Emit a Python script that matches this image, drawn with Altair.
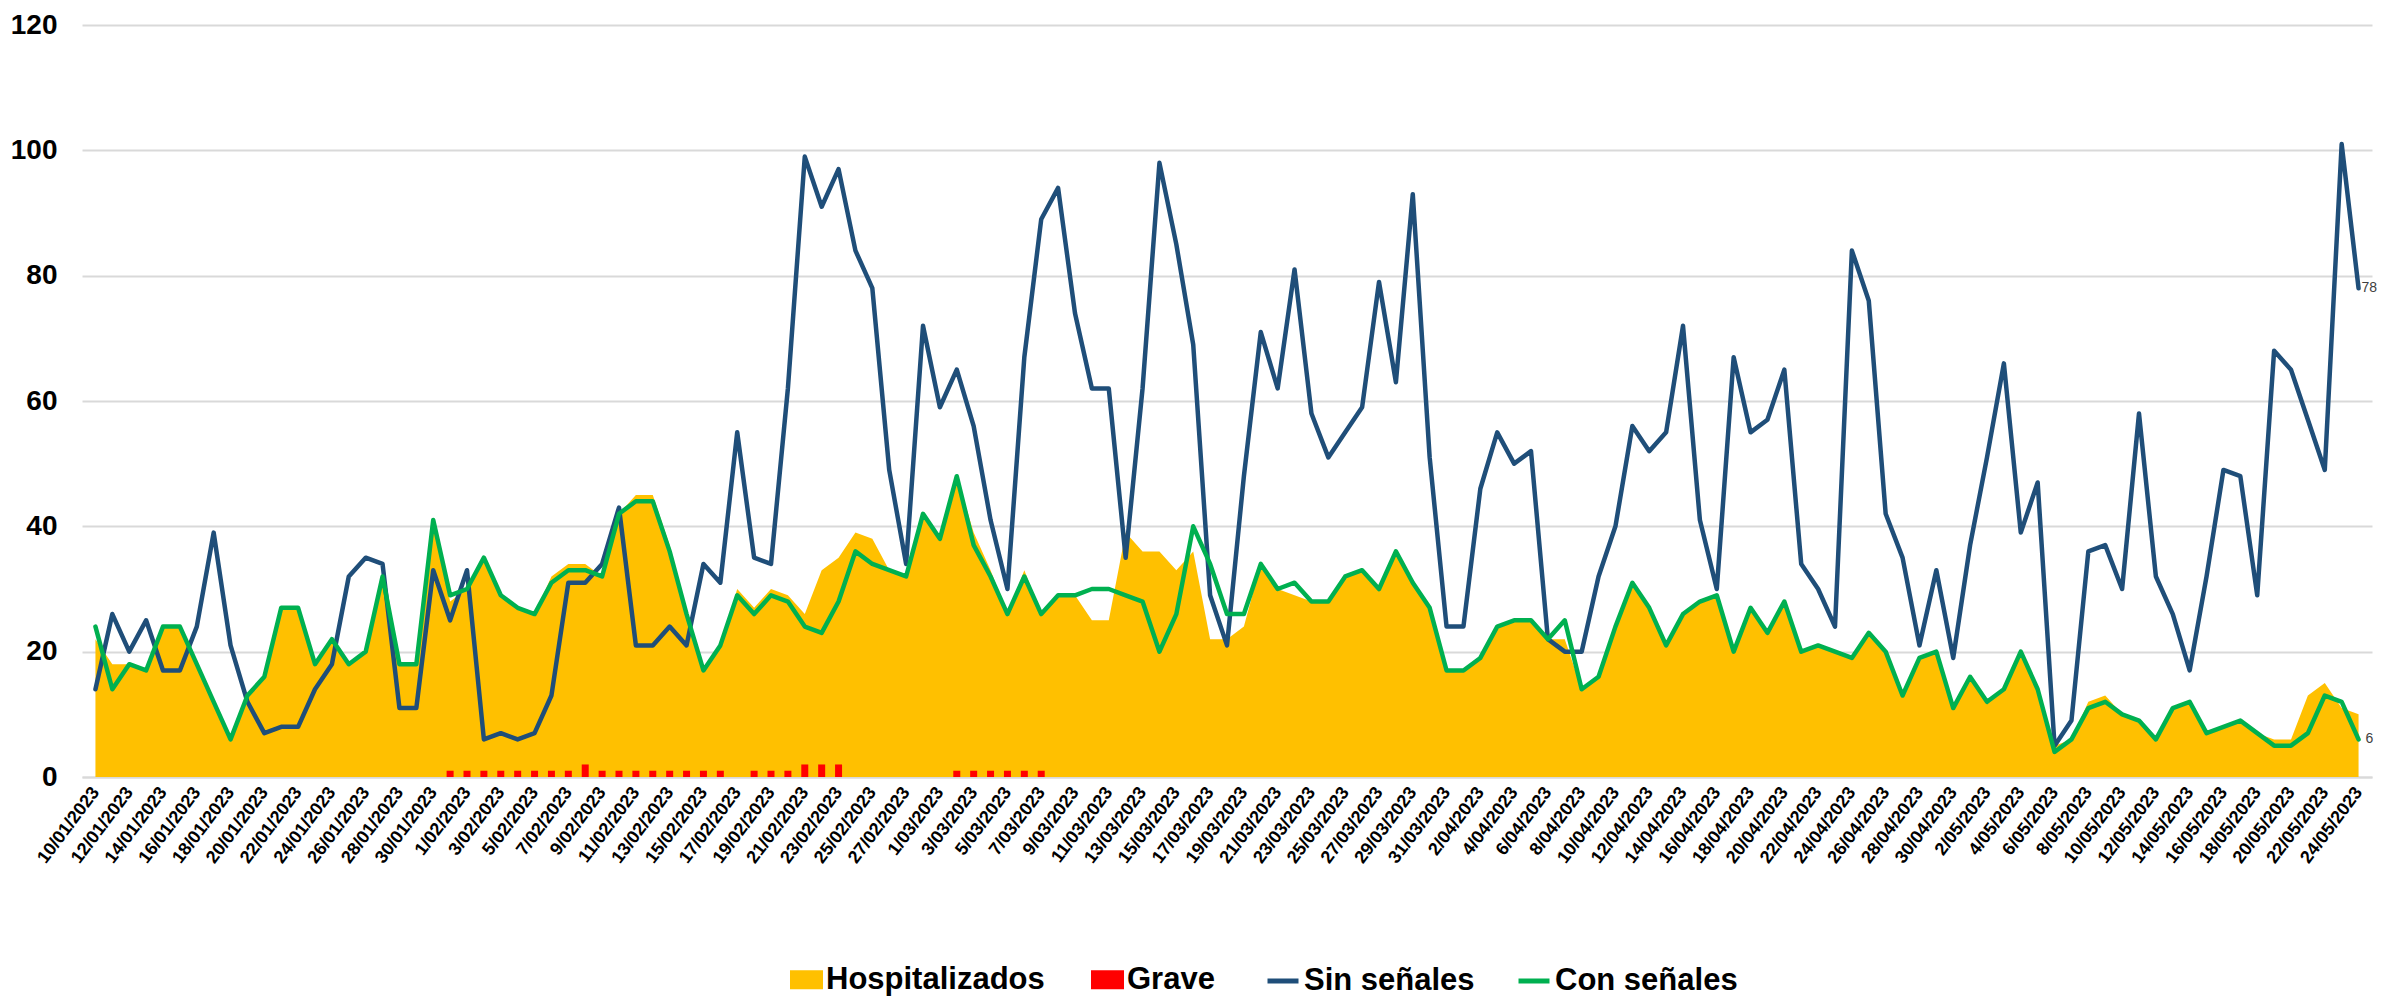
import altair as alt
import pandas as pd

# ---------------- data ----------------
fechas = pd.date_range("2023-01-10", "2023-05-24", freq="D")

sin_senales = [
    14, 26, 20, 25, 17, 17, 24, 39, 21, 12, 7, 8, 8, 14, 18, 32, 35, 34, 11, 11, 33, 25, 33,
    6, 7, 6, 7, 13, 31, 31, 34, 43, 21, 21, 24, 21, 34, 31, 55, 35, 34, 62, 99, 91, 97, 84, 78,
    49, 34, 72, 59, 65, 56, 41, 30, 67, 89, 94, 74, 62, 62, 35, 62, 98, 85, 69, 29, 21, 48,
    71, 62, 81, 58, 51, 55, 59, 79, 63, 93, 51, 24, 24, 46, 55, 50, 52, 22, 20, 20, 32, 40, 56,
    52, 55, 72, 41, 30, 67, 55, 57, 65, 34, 30, 24, 84, 76, 42, 35, 21, 33, 19, 37, 51, 66, 39,
    47, 5, 9, 36, 37, 30, 58, 32, 26, 17, 32, 49, 48, 29, 68, 65, 57, 49, 101, 78,
]

con_senales = [
    24, 14, 18, 17, 24, 24, 18, 12, 6, 13, 16, 27, 27, 18, 22, 18, 20, 32, 18, 18, 41, 29, 30,
    35, 29, 27, 26, 31, 33, 33, 32, 42, 44, 44, 36, 26, 17, 21, 29, 26, 29, 28, 24, 23, 28, 36, 34,
    33, 32, 42, 38, 48, 37, 32, 26, 32, 26, 29, 29, 30, 30, 29, 28, 20, 26, 40, 34, 26, 26,
    34, 30, 31, 28, 28, 32, 33, 30, 36, 31, 27, 17, 17, 19, 24, 25, 25, 22, 25, 14, 16, 24, 31,
    27, 21, 26, 28, 29, 20, 27, 23, 28, 20, 21, 20, 19, 23, 20, 13, 19, 20, 11, 16, 12, 14, 20,
    14, 4, 6, 11, 12, 10, 9, 6, 11, 12, 7, 8, 9, 7, 5, 5, 7, 13, 12, 6,
]

hospitalizados = [
    22, 18, 18, 17, 24, 24, 18, 12, 6, 13, 16, 27, 27, 18, 22, 18, 20, 32, 18, 18, 41, 28, 30,
    35, 29, 27, 26, 32, 34, 34, 32, 42, 45, 45, 37, 26, 17, 21, 30, 27, 30, 29, 26, 33, 35, 39, 38,
    33, 32, 42, 38, 48, 39, 33, 26, 33, 26, 29, 29, 25, 25, 39, 36, 36, 33, 36, 22, 22, 24,
    34, 30, 29, 28, 28, 32, 33, 30, 36, 31, 27, 17, 17, 19, 24, 25, 25, 22, 22, 14, 16, 24, 31,
    27, 21, 26, 28, 29, 20, 27, 23, 28, 20, 21, 20, 19, 23, 20, 13, 19, 20, 11, 16, 12, 14, 20,
    14, 5, 6, 12, 13, 10, 9, 6, 11, 12, 7, 8, 9, 7, 6, 6, 13, 15, 11, 10,
]

grave = (
    [0] * 21
    + [1, 1, 1, 1, 1, 1, 1, 1, 2, 1, 1, 1, 1, 1, 1, 1, 1, 0, 1, 1, 1, 2, 2, 2]
    + [0] * 6
    + [1, 1, 1, 1, 1, 1]
    + [0] * 78
)

series_area = ["Hospitalizados", "Grave"]
series_line = ["Sin señales", "Con señales"]
colores_area = ["#FFC000", "#FF0000"]
colores_line = ["#1F4E79", "#00B050"]

df = pd.DataFrame({
    "fecha": fechas.strftime("%Y-%m-%dT00:00:00"),
    "Hospitalizados": hospitalizados,
    "Grave": grave,
    "Sin señales": sin_senales,
    "Con señales": con_senales,
})

# ---------------- styling ----------------
FONT = "Liberation Sans, Arial, sans-serif"

tick_values = [alt.DateTime(year=d.year, month=d.month, date=d.day) for d in fechas[::2]]

x_enc = alt.X(
    "fecha:T",
    title=None,
    scale=alt.Scale(domain=[alt.DateTime(year=2023, month=1, date=9, hours=12),
                            alt.DateTime(year=2023, month=5, date=24, hours=12)]),
    axis=alt.Axis(
        values=tick_values, format="%-d/%m/%Y", labelAngle=307, labelAlign="right",
        labelBaseline="middle", labelFont=FONT, labelFontSize=18, labelFontWeight="bold",
        labelColor="black", labelPadding=12, labelOverlap=False, labelFlush=False,
        labelBound=False, grid=False, ticks=False, domain=True, domainColor="#d9d9d9",
        domainWidth=2,
    ),
)

y_scale = alt.Scale(domain=[0, 120], nice=False)
y_axis = alt.Axis(
    values=[0, 20, 40, 60, 80, 100, 120], grid=True, gridColor="#d9d9d9", gridWidth=2,
    domain=False, ticks=False, labelFont=FONT, labelFontSize=28, labelFontWeight="bold",
    labelColor="black", labelPadding=25,
)

def yenc(field):
    return alt.Y(f"{field}:Q", scale=y_scale, axis=y_axis, title=None)

RECT = "M-1,-0.58H1V0.58H-1Z"

fill_enc = alt.Fill(
    "sf:N",
    scale=alt.Scale(domain=series_area, range=colores_area),
    legend=alt.Legend(
        title=None, orient="none", legendX=708, legendY=938, direction="horizontal",
        symbolType=RECT, symbolSize=1089, symbolStrokeWidth=0, labelFont=FONT,
        labelFontSize=31, labelFontWeight="bold", labelColor="black", labelLimit=500,
        columnPadding=46, labelOffset=3,
    ),
)

stroke_enc = alt.Stroke(
    "sl:N",
    scale=alt.Scale(domain=series_line, range=colores_line),
    legend=alt.Legend(
        title=None, orient="none", legendX=1183, legendY=938, direction="horizontal",
        symbolType="stroke", symbolSize=961, symbolStrokeWidth=5, labelFont=FONT,
        labelFontSize=31, labelFontWeight="bold", labelColor="black", labelLimit=500,
        columnPadding=33, labelOffset=3,
    ),
)

base = alt.Chart(df).encode(x=x_enc)

area = base.mark_area(opacity=1).transform_calculate(sf="'Hospitalizados'").encode(
    y=yenc("Hospitalizados"), fill=fill_enc)

bars = base.mark_bar(size=7).transform_filter("datum.Grave > 0").transform_calculate(
    sf="'Grave'").encode(y=yenc("Grave"), fill=fill_enc)

line_sin = base.mark_line(strokeWidth=4.5, strokeJoin="round", strokeCap="round").transform_calculate(
    sl="'Sin señales'").encode(y=yenc("Sin señales"), stroke=stroke_enc)

line_con = base.mark_line(strokeWidth=4.5, strokeJoin="round", strokeCap="round").transform_calculate(
    sl="'Con señales'").encode(y=yenc("Con señales"), stroke=stroke_enc)

ultimo = alt.FieldEqualPredicate(field="fecha", equal=alt.DateTime(year=2023, month=5, date=24))

txt_sin = base.mark_text(align="left", baseline="middle", dx=3, fontSize=14,
                         font=FONT, color="#404040").transform_filter(
    ultimo).encode(y=yenc("Sin señales"), text=alt.Text("Sin señales:Q"))

txt_con = base.mark_text(align="left", baseline="middle", dx=7, fontSize=14,
                         font=FONT, color="#404040").transform_filter(
    ultimo).encode(y=yenc("Con señales"), text=alt.Text("Con señales:Q"))

chart = alt.layer(area, bars, line_sin, line_con, txt_sin, txt_con).properties(
    width=2290,
    height=752,
    autosize=alt.AutoSizeParams(type="none"),
    padding={"left": 74, "top": 17, "right": 9, "bottom": 219},
).configure_view(stroke=None)

chart.save("out.html", embed_options={"renderer": "svg", "actions": False})
